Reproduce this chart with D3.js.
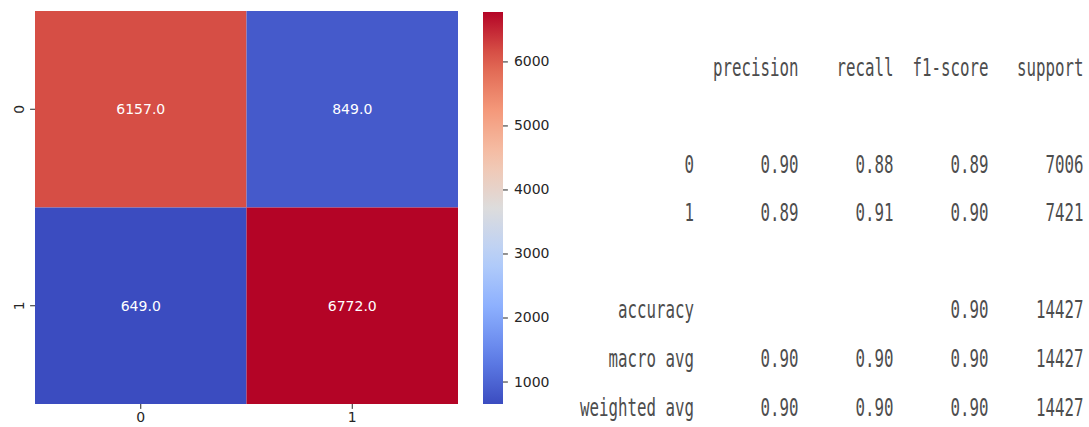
<!DOCTYPE html>
<html lang="en">
<head>
<meta charset="UTF-8">
<title>Confusion matrix and classification report</title>
<style>
  body { margin: 0; background: #fff; }
  svg { display: block; }
  .tick text { font-family: "DejaVu Sans", sans-serif; font-size: 14px; fill: #262626; }
  .tick line { stroke: #262626; }
</style>
</head>
<body>
<svg id="chart"></svg>
<script src="https://d3js.org/d3.v7.min.js"></script>
<script>
// confusion matrix
const classes = ["0", "1"];
const matrix = [
  [6157, 849],
  [649, 6772]
];
const colorbarTicks = [1000, 2000, 3000, 4000, 5000, 6000];

// classification report
const reportHeader = ["precision", "recall", "f1-score", "support"];
const reportLabels = ["0", "1", "accuracy", "macro avg", "weighted avg"];
const reportLines = [2, 3, 5, 6, 7]; // text line of each row (blank lines in between)
const precision = [0.90, 0.89, null, 0.90, 0.90];
const recall = [0.88, 0.91, null, 0.90, 0.90];
const f1score = [0.89, 0.90, 0.90, 0.90, 0.90];
const support = [7006, 7421, 14427, 14427, 14427];

// matplotlib coolwarm, sampled
const coolwarm = ["#3b4cc0", "#6282ea", "#8db0fe", "#b8d0f9", "#dddcdc",
                  "#f5c4ac", "#f4987a", "#de604d", "#b40426"];

const width = 1089, height = 427;
const svg = d3.select("#chart").attr("width", width).attr("height", height);

// ---- heatmap ----
const x = d3.scaleBand().domain(classes).range([35, 458]);
const y = d3.scaleBand().domain(classes).range([11, 404]);

const values = matrix.flat();
const color = d3.scaleSequential(d3.piecewise(d3.interpolateRgb, coolwarm))
  .domain([d3.min(values), d3.max(values)]);

const cells = [];
matrix.forEach((row, i) => row.forEach((v, j) => cells.push({ r: classes[i], c: classes[j], v })));

svg.append("g").selectAll("rect")
  .data(cells)
  .join("rect")
  .attr("x", d => x(d.c))
  .attr("y", d => y(d.r))
  .attr("width", x.bandwidth())
  .attr("height", y.bandwidth())
  .attr("fill", d => color(d.v));

svg.append("g").selectAll("text")
  .data(cells)
  .join("text")
  .attr("x", d => x(d.c) + x.bandwidth() / 2)
  .attr("y", d => y(d.r) + y.bandwidth() / 2)
  .attr("text-anchor", "middle")
  .attr("dy", "0.36em")
  .style("font-family", "DejaVu Sans, sans-serif")
  .style("font-size", "14px")
  .style("fill", "#fff")
  .text(d => d.v.toFixed(1));

svg.append("g")
  .attr("transform", "translate(0,404)")
  .call(d3.axisBottom(x).tickSize(4.9).tickPadding(3))
  .call(g => g.select(".domain").remove());

const yAxis = svg.append("g")
  .attr("transform", "translate(35,0)")
  .call(d3.axisLeft(y).tickSize(4.9).tickPadding(3))
  .call(g => g.select(".domain").remove());
yAxis.selectAll(".tick text")
  .attr("x", 0)
  .attr("y", -11)
  .attr("dy", 0)
  .attr("text-anchor", "middle")
  .attr("transform", "rotate(-90)");

// ---- colorbar ----
const cbX = 483, cbW = 20;
const cScale = d3.scaleLinear().domain(color.domain()).range([404, 12]);

const grad = svg.append("defs").append("linearGradient")
  .attr("id", "cbar")
  .attr("x1", 0).attr("y1", 1).attr("x2", 0).attr("y2", 0);
grad.selectAll("stop")
  .data(d3.range(0, 1.0001, 0.05))
  .join("stop")
  .attr("offset", t => t)
  .attr("stop-color", t => color(color.domain()[0] + t * (color.domain()[1] - color.domain()[0])));

svg.append("rect")
  .attr("x", cbX)
  .attr("y", cScale.range()[1])
  .attr("width", cbW)
  .attr("height", cScale.range()[0] - cScale.range()[1])
  .attr("fill", "url(#cbar)");

svg.append("g")
  .attr("transform", `translate(${cbX + cbW},0)`)
  .call(d3.axisRight(cScale).tickValues(colorbarTicks).tickFormat(d3.format("d"))
    .tickSize(4.9).tickPadding(6))
  .call(g => g.select(".domain").remove());

// ---- classification report (monospaced text, squeezed horizontally) ----
const charW = 9.5;
const fontSize = 24;
const squeeze = charW / (0.602 * fontSize); // DejaVu Sans Mono advance is 0.602em
const col = d3.scaleLinear().domain([0, 53]).range([580, 580 + 53 * charW]);
const line = d3.scaleLinear().domain([0, 7]).range([67, 407]);
const colEnds = [12, 23, 33, 43, 53]; // right edge of each column, in characters

function cellText(str, colIdx, lineIdx) {
  svg.append("text")
    .attr("transform", `translate(${col(colEnds[colIdx])},${line(lineIdx)}) scale(${squeeze},1)`)
    .attr("text-anchor", "end")
    .attr("dy", "0.36em")
    .style("font-family", "DejaVu Sans Mono, monospace")
    .style("font-size", fontSize + "px")
    .style("fill", "#4d4d4d")
    .text(str);
}

reportHeader.forEach((h, k) => cellText(h, k + 1, 0));
reportLabels.forEach((lab, i) => {
  const ln = reportLines[i];
  cellText(lab, 0, ln);
  if (precision[i] !== null) cellText(precision[i].toFixed(2), 1, ln);
  if (recall[i] !== null) cellText(recall[i].toFixed(2), 2, ln);
  cellText(f1score[i].toFixed(2), 3, ln);
  cellText(String(support[i]), 4, ln);
});
</script>
</body>
</html>
